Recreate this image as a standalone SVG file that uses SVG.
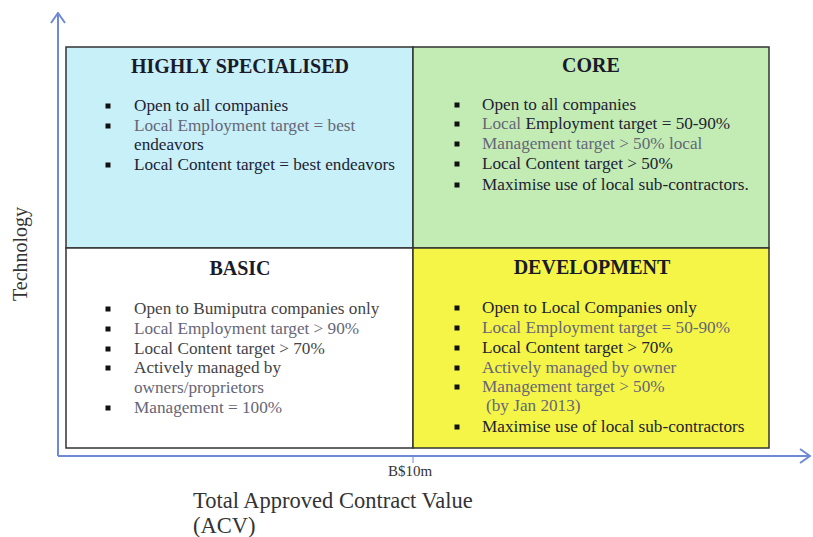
<svg xmlns="http://www.w3.org/2000/svg" width="813" height="537" viewBox="0 0 813 537">
<style>
.t{font-family:"Liberation Serif","Times New Roman",serif;font-size:20px;font-weight:bold;fill:#1a1a2a;text-anchor:middle}
.b{font-family:"Liberation Serif","Times New Roman",serif;font-size:17.2px;fill:#222233}
.g{fill:#666677}
.bg{fill:#444}
.ax{stroke:#6e8ad6;stroke-width:2;fill:none}
.cell{stroke:#333;stroke-width:1.5}
.lbl{font-family:"Liberation Serif","Times New Roman",serif;fill:#333}
</style>
<defs>
<marker id="arr" viewBox="0 0 12 16" refX="11" refY="8" markerWidth="12" markerHeight="16" markerUnits="userSpaceOnUse" orient="auto">
<path d="M1,1 L11,8 L1,15" fill="none" stroke="#6e8ad6" stroke-width="2"/>
</marker>
<g id="sq"><rect x="-2.5" y="-2.5" width="5" height="5" fill="#111"/></g>
</defs>
<g id="connectors">
<path class="ax" d="M58,456 L58,13" marker-end="url(#arr)"/>
<path class="ax" d="M58,456 L810,456" marker-end="url(#arr)"/>
<line x1="413" y1="456" x2="413" y2="463" stroke="#6e8ad6" stroke-width="1"/>
</g>
<g id="highly-specialised">
<rect class="cell" x="66" y="47" width="347" height="201" fill="#c8f0f8"/>
<text class="t" x="240" y="73">HIGHLY SPECIALISED</text>
<use href="#sq" x="108" y="106"/><text class="b" x="134" y="111">Open to all companies</text>
<use href="#sq" x="108" y="126"/><text class="b g" x="134" y="131">Local Employment target = best</text>
<text class="b" x="134" y="150">endeavors</text>
<use href="#sq" x="108" y="165"/><text class="b" x="134" y="170">Local Content target = best endeavors</text>
</g>
<g id="core">
<rect class="cell" x="413" y="47" width="356" height="201" fill="#c3ecb5"/>
<text class="t" x="591" y="72">CORE</text>
<use href="#sq" x="457" y="105"/><text class="b" x="482" y="110">Open to all companies</text>
<use href="#sq" x="457" y="124"/><text class="b"  x="482" y="129"><tspan class="g">Local </tspan>Employment target = 50-90%</text>
<use href="#sq" x="457" y="144"/><text class="b g" x="482" y="149">Management target &gt; 50% local</text>
<use href="#sq" x="457" y="164"/><text class="b" x="482" y="169">Local Content target &gt; 50%</text>
<use href="#sq" x="457" y="185"/><text class="b" x="482" y="190">Maximise use of local sub-contractors.</text>
</g>
<g id="basic">
<rect class="cell" x="66" y="248" width="347" height="200" fill="#ffffff"/>
<text class="t" x="240" y="275">BASIC</text>
<use href="#sq" x="108" y="309"/><text class="b bg" x="134" y="314">Open to Bumiputra  companies only</text>
<use href="#sq" x="108" y="329"/><text class="b g" x="134" y="334">Local Employment target &gt; 90%</text>
<use href="#sq" x="108" y="349"/><text class="b bg" x="134" y="354">Local Content target &gt; 70%</text>
<use href="#sq" x="108" y="368"/><text class="b bg" x="134" y="373">Actively managed by</text>
<text class="b g" x="134" y="393">owners/proprietors</text>
<use href="#sq" x="108" y="408"/><text class="b g" x="134" y="413">Management = 100%</text>
</g>
<g id="development">
<rect class="cell" x="413" y="248" width="356" height="200" fill="#f5f548"/>
<text class="t" x="592" y="274">DEVELOPMENT</text>
<use href="#sq" x="457" y="308"/><text class="b" x="482" y="313">Open to Local Companies only</text>
<use href="#sq" x="457" y="328"/><text class="b g" x="482" y="333">Local Employment target  = 50-90%</text>
<use href="#sq" x="457" y="348"/><text class="b" x="482" y="353">Local Content target &gt; 70%</text>
<use href="#sq" x="457" y="368"/><text class="b g" x="482" y="373">Actively managed by owner</text>
<use href="#sq" x="457" y="387"/><text class="b g" x="482" y="392">Management target &gt; 50%</text>
<text class="b g" x="486" y="411">(by Jan 2013)</text>
<use href="#sq" x="457" y="427"/><text class="b" x="482" y="432">Maximise use of local sub-contractors</text>
</g>
<g id="labels">
<text class="lbl" x="410" y="476" font-size="15" text-anchor="middle">B$10m</text>
<text class="lbl" x="193" y="508" font-size="22.5">Total Approved Contract Value</text>
<text class="lbl" x="193" y="533" font-size="22.5">(ACV)</text>
<text class="lbl" transform="translate(27,254) rotate(-90)" font-size="20" text-anchor="middle">Technology</text>
</g>
</svg>
